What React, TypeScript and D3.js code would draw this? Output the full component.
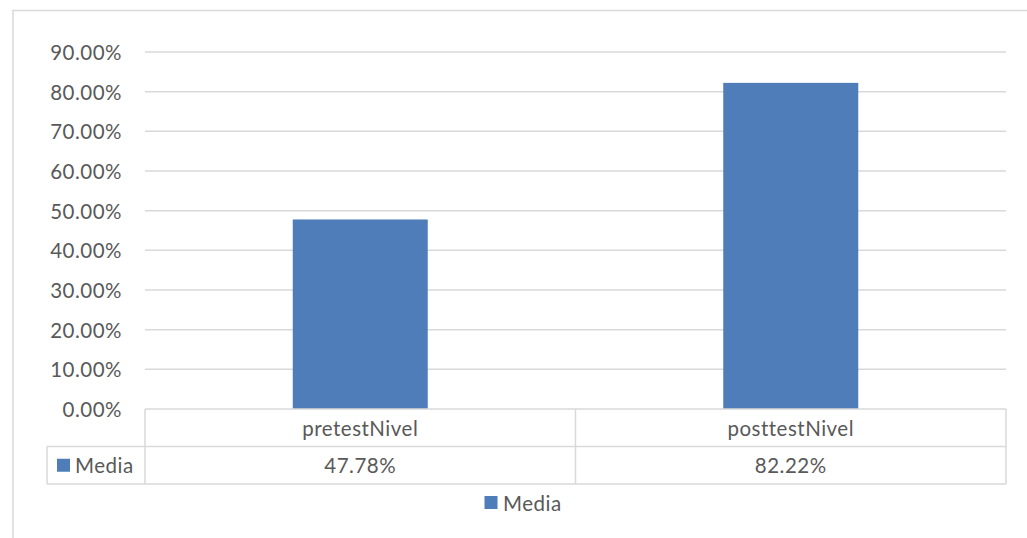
import React from "react";
import * as d3 from "d3";

// Average level before and after the intervention
const categories = ["pretestNivel", "posttestNivel"];
const mediaValues = [0.4778, 0.8222];
const seriesName = "Media";
const yTicks = [0, 0.1, 0.2, 0.3, 0.4, 0.5, 0.6, 0.7, 0.8, 0.9];

const W = 1027;
const H = 538;
const FONT = "Lato, 'Open Sans', sans-serif";
const TEXT = "#595959";
const GRID = "#d9d9d9";
const BAR = "#4f7db9";
const FS = 20.5;
const LS = 0.5;

export default function App() {
  const plotLeft = 145;
  const plotRight = 1006;
  const plotTop = 52;
  const plotBottom = 409;
  const rowH = 37.5;
  const tableLeft = 47;

  const x = d3.scaleBand<string>().domain(categories).range([plotLeft, plotRight]).padding(0);
  const y = d3.scaleLinear().domain([0, 0.9]).range([plotBottom, plotTop]);
  const barW = x.bandwidth() * 0.3136;
  const fmt = (v: number) => (v * 100).toFixed(2) + "%";

  const row1 = plotBottom;
  const row2 = plotBottom + rowH;
  const row3 = plotBottom + rowH * 2;

  return (
    <svg
      width={W}
      height={H}
      style={{ position: "absolute", left: 0, top: 0, background: "#fff" }}
      fontFamily={FONT}
      letterSpacing={LS}
    >
      {/* chart area frame */}
      <line x1={12} x2={W} y1={10.5} y2={10.5} stroke={GRID} strokeWidth={1.5} />
      <line x1={13} x2={13} y1={10} y2={H} stroke={GRID} strokeWidth={1.5} />

      {/* gridlines and y tick labels */}
      {yTicks.map((t) => (
        <g key={t}>
          {t > 0 && (
            <line x1={plotLeft} x2={plotRight} y1={y(t)} y2={y(t)} stroke={GRID} strokeWidth={1.5} />
          )}
          <text
            x={122}
            y={y(t)}
            textAnchor="end"
            dominantBaseline="central"
            fontSize={FS}
            fill={TEXT}
          >
            {fmt(t)}
          </text>
        </g>
      ))}

      {/* bars */}
      {categories.map((c, i) => (
        <rect
          key={c}
          x={(x(c) as number) + (x.bandwidth() - barW) / 2}
          y={y(mediaValues[i])}
          width={barW}
          height={plotBottom - y(mediaValues[i])}
          fill={BAR}
        />
      ))}

      {/* data table */}
      <g stroke={GRID} strokeWidth={1.5} fill="none">
        <line x1={plotLeft} x2={plotRight} y1={row1} y2={row1} />
        <line x1={tableLeft} x2={plotRight} y1={row2} y2={row2} />
        <line x1={tableLeft} x2={plotRight} y1={row3} y2={row3} />
        <line x1={tableLeft} x2={tableLeft} y1={row2} y2={row3} />
        <line x1={plotLeft} x2={plotLeft} y1={row1} y2={row3} />
        {categories.map((c) => (
          <line key={c} x1={(x(c) as number) + x.bandwidth()} x2={(x(c) as number) + x.bandwidth()} y1={row1} y2={row3} />
        ))}
      </g>
      {categories.map((c, i) => (
        <g key={c}>
          <text
            x={(x(c) as number) + x.bandwidth() / 2}
            y={(row1 + row2) / 2}
            textAnchor="middle"
            dominantBaseline="central"
            fontSize={FS}
            fill={TEXT}
          >
            {c}
          </text>
          <text
            x={(x(c) as number) + x.bandwidth() / 2}
            y={(row2 + row3) / 2}
            textAnchor="middle"
            dominantBaseline="central"
            fontSize={FS}
            fill={TEXT}
          >
            {fmt(mediaValues[i])}
          </text>
        </g>
      ))}
      <rect x={57} y={(row2 + row3) / 2 - 6.5} width={13} height={13} fill={BAR} />
      <text x={75} y={(row2 + row3) / 2} dominantBaseline="central" fontSize={FS} fill={TEXT}>
        {seriesName}
      </text>

      {/* legend */}
      <rect x={484.5} y={496} width={13} height={13} fill={BAR} />
      <text x={503} y={502.5} dominantBaseline="central" fontSize={FS} fill={TEXT}>
        {seriesName}
      </text>
    </svg>
  );
}
